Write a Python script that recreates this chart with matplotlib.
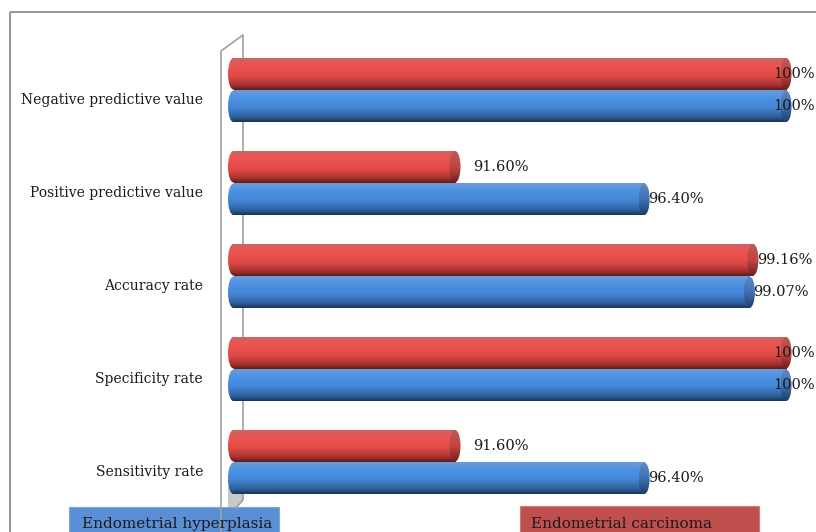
import matplotlib
matplotlib.use("Agg")
import matplotlib.pyplot as plt
import numpy as np
from matplotlib.colors import LinearSegmentedColormap
from matplotlib.patches import Rectangle, Ellipse, Polygon

categories = ["Sensitivity rate", "Specificity rate", "Accuracy rate",
              "Positive predictive value", "Negative predictive value"]
hyperplasia = [96.40, 100, 99.07, 96.40, 100]
carcinoma = [91.60, 100, 99.16, 91.60, 100]
hyperplasia_labels = ["96.40%", "100%", "99.07%", "96.40%", "100%"]
carcinoma_labels = ["91.60%", "100%", "99.16%", "91.60%", "100%"]
series_names = ["Endometrial hyperplasia", "Endometrial carcinoma"]

W, H = 816, 532
FONT = "DejaVu Serif"
X_MIN, X_MAX = 85.84, 100.76   # value axis (px 228 -> 816)
BAR_H = 0.34
CAP_W = 0.28

red_cmap = LinearSegmentedColormap.from_list(
    "red", [(0, "#c96563"), (0.2, "#ec5552"), (0.55, "#e24b48"),
            (0.85, "#a8322f"), (1, "#5e1c1a")])
blue_cmap = LinearSegmentedColormap.from_list(
    "blue", [(0, "#6e9bd6"), (0.25, "#4b92e4"), (0.55, "#4487d6"),
             (0.85, "#2f5f9c"), (1, "#1b3456")])
red_cap = LinearSegmentedColormap.from_list(
    "redcap", [(0, "#b85a58"), (0.5, "#c44440"), (1, "#6a2220")])
blue_cap = LinearSegmentedColormap.from_list(
    "bluecap", [(0, "#6288c0"), (0.5, "#3e72b4"), (1, "#203e66")])

fig = plt.figure(figsize=(W / 100, H / 100), dpi=100)

# decoration layer in pixel coordinates (frame, back wall, legend boxes)
deco = fig.add_axes([0, 0, 1, 1])
deco.set_xlim(0, W)
deco.set_ylim(H, 0)
deco.axis("off")
deco.add_patch(Rectangle((10, 12), 900, 600, fill=False, ec="#8c8c8c", lw=1.3))
deco.add_patch(Polygon([(228, 480), (243, 480), (243, 500), (236, 508), (228, 508)],
                       closed=True, fc="#c8c8c8", ec="none"))
deco.plot([221, 221, 243, 243, 236], [532, 51, 35, 500, 508], color="#a0a0a0", lw=1.2)

deco.add_patch(Rectangle((69, 507), 210, 40, fc="#5a8fd6", ec="#7ea6de", lw=0.8))
deco.text(82, 524, series_names[0], family=FONT, fontsize=11, color="#1a1a1a",
          va="center", ha="left")
deco.add_patch(Rectangle((520, 506), 239, 40, fc="#c0504d", ec="#d27a78", lw=0.8))
deco.text(531, 524, series_names[1], family=FONT, fontsize=11, color="#1a1a1a",
          va="center", ha="left")

# chart axes: values on x, categories on y
ax = fig.add_axes([228 / W, 0, 1 - 228 / W, 1])
ax.patch.set_alpha(0)


def cylinder(ax, yc, value, cmap, capmap):
    grad = np.linspace(0, 1, 64).reshape(-1, 1)
    y0, y1 = yc - BAR_H / 2, yc + BAR_H / 2
    xs = X_MIN + CAP_W / 2
    body = Rectangle((xs, y0), value - xs, BAR_H, transform=ax.transData)
    left = Ellipse((xs, yc), CAP_W, BAR_H, transform=ax.transData)
    for clip in (body, left):
        im = ax.imshow(grad, cmap=cmap, aspect="auto", origin="upper",
                       extent=[X_MIN, value, y0, y1], interpolation="bilinear")
        im.set_clip_path(clip)
    cap = Ellipse((value, yc), CAP_W, BAR_H, transform=ax.transData)
    im = ax.imshow(grad, cmap=capmap, aspect="auto", origin="upper",
                   extent=[value - CAP_W / 2, value + CAP_W / 2, y0, y1],
                   interpolation="bilinear")
    im.set_clip_path(cap)


px = (X_MAX - X_MIN) / (W - 228)   # value units per pixel
off = BAR_H / 2 + 0.005
for i, cat in enumerate(categories):
    cylinder(ax, i + off, carcinoma[i], red_cmap, red_cap)
    cylinder(ax, i - off, hyperplasia[i], blue_cmap, blue_cap)
    for val, lab, yy in ((carcinoma[i], carcinoma_labels[i], i + off),
                         (hyperplasia[i], hyperplasia_labels[i], i - off)):
        if val >= 100:
            dx = -13
        elif val < 92:
            dx = 18
        else:
            dx = 4
        ax.text(val + dx * px, yy, lab, family=FONT, fontsize=10.5,
                color="#1a1a1a", va="center", ha="left", clip_on=False)

ax.set_xlim(X_MIN, X_MAX)
ax.set_ylim(-0.753, 4.968)
ax.set_yticks(np.arange(len(categories)) - 0.09)
ax.set_yticklabels(categories, family=FONT, fontsize=10, color="#1a1a1a")
ax.tick_params(axis="y", length=0, pad=18)
ax.set_xticks([])
for s in ax.spines.values():
    s.set_visible(False)

fig.savefig("out.png", dpi=100)
